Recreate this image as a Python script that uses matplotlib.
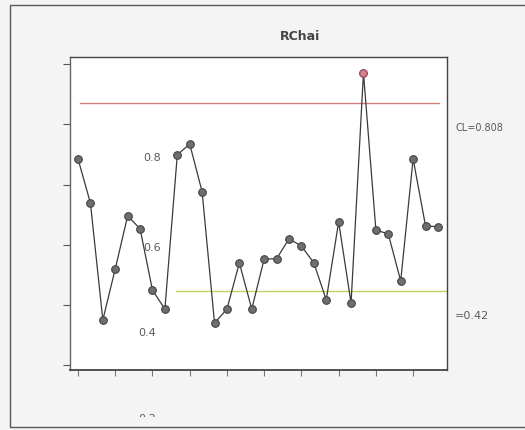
import numpy as np
import matplotlib

matplotlib.use("Agg")
import matplotlib.pyplot as plt
from matplotlib.patches import Rectangle
from matplotlib.transforms import Bbox, TransformedBbox

# sample ranges (R chart)
samples = np.arange(1, 31)
ranges = [0.749, 0.639, 0.348, 0.475, 0.607, 0.575, 0.422, 0.375, 0.759, 0.786,
          0.667, 0.340, 0.375, 0.490, 0.375, 0.500, 0.500, 0.550, 0.532, 0.490,
          0.398, 0.592, 0.390, 0.963, 0.572, 0.562, 0.445, 0.749, 0.582, 0.580]
ucl = 0.888
cl = 0.42
out_idx = [23]  # point above UCL

y_labels = ["0.8", "0.6", "0.4", "0.2"]

fig = plt.figure(figsize=(5.25, 4.3), dpi=100)
fig.patch.set_facecolor("#f4f4f4")
fig.patches.append(Rectangle((10 / 525, 1 - 427 / 430), 1.2, 422 / 430,
                             transform=fig.transFigure, fill=False,
                             edgecolor="#5a5a5a", linewidth=1.0))

ax = fig.add_axes([70 / 525, 1 - 370 / 430, 377 / 525, 313 / 430])
ax.set_facecolor("white")

ax.axhline(ucl, xmin=0.027, xmax=0.979, color="#d47c7c", linewidth=1.0)
ax.axhline(cl, xmin=0.281, xmax=1.0, color="#c4cf6a", linewidth=1.0)

ax.plot(samples, ranges, color="#3a3a3a", linewidth=0.9, marker="o",
        markersize=5.5, markerfacecolor="#6e6e6e", markeredgecolor="#444444",
        markeredgewidth=0.8)
ax.plot(samples[out_idx], np.array(ranges)[out_idx], linestyle="none",
        marker="o", markersize=5, markerfacecolor="#d97f8f",
        markeredgecolor="#b06070")

ax.set_xlim(0.355, 30.73)
ax.set_ylim(0.2234, 1.0025)
ax.set_xticks(np.arange(1, 31, 3))
ax.set_yticks(np.arange(0.235, 1.0, 0.15))
ax.set_xticklabels([])
ax.set_yticklabels([])
ax.tick_params(axis="x", direction="out", length=4, width=0.8, color="#777777", pad=2)
ax.tick_params(axis="y", direction="out", length=5, width=0.8, color="#555555")
for side in ["left", "bottom", "top", "right"]:
    ax.spines[side].set_color("#444444")
    ax.spines[side].set_linewidth(1.0)
ax.spines["left"].set_color("#666666")
ax.spines["bottom"].set_linewidth(1.3)

# misplaced axis labels as they appear in the picture
lab_pos = [(152, 158), (152, 248), (147, 333), (147, 419)]
clip = TransformedBbox(Bbox([[0, 1 - 417 / 430], [1, 1]]), fig.transFigure)
for txt, (px, py) in zip(y_labels, lab_pos):
    t = fig.text(px / 525, 1 - py / 430, txt, ha="center", va="center",
                 fontsize=8, color="#5a5a5a")
    t.set_clip_box(clip)
    t.set_clip_on(True)

fig.text(455 / 525, 1 - 128 / 430, "CL=0.808", ha="left", va="center",
         fontsize=7, color="#5a5a5a")
fig.text(455 / 525, 1 - 316 / 430, "=0.42", ha="left", va="center",
         fontsize=8, color="#5a5a5a")
fig.text(300 / 525, 1 - 37 / 430, "RChai", ha="center", va="center",
         fontsize=9, fontweight="bold", color="#444444")

fig.savefig("out.png", dpi=100, facecolor=fig.get_facecolor())
